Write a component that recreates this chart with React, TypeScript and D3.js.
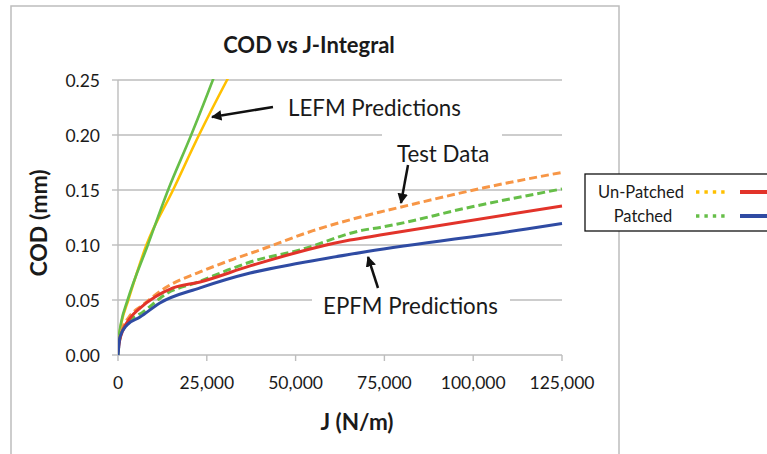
import React from "react";
import * as d3 from "d3";

// ---- Data ----
const X_TICKS = [0, 25000, 50000, 75000, 100000, 125000];
const Y_TICKS = [0, 0.05, 0.1, 0.15, 0.2, 0.25];

// Test data (dashed)
const J_UNPATCHED_TEST = [0, 300, 1000, 3000, 7000, 13800, 23100, 32400, 39100, 54900, 73800, 81600, 103000, 125000];
const COD_UNPATCHED_TEST = [0, 0.012, 0.022, 0.034, 0.0455, 0.062, 0.0755, 0.087, 0.0945, 0.113, 0.13, 0.136, 0.152, 0.166];
const J_PATCHED_TEST = [0, 300, 1000, 3000, 7000, 13800, 22200, 32400, 37200, 51200, 69000, 73800, 100000, 125000];
const COD_PATCHED_TEST = [0, 0.011, 0.02, 0.03, 0.039, 0.056, 0.066, 0.079, 0.0845, 0.0955, 0.1135, 0.116, 0.135, 0.151];

// EPFM predictions (solid)
const J_UNPATCHED_EPFM = [0, 400, 1400, 3400, 6200, 10400, 15500, 23100, 37200, 65300, 73800, 125000];
const COD_UNPATCHED_EPFM = [0.003, 0.012, 0.0227, 0.0336, 0.0427, 0.0527, 0.061, 0.0664, 0.081, 0.1045, 0.109, 0.1355];
const J_PATCHED_EPFM = [0, 560, 2530, 6200, 11800, 23100, 37200, 51200, 70100, 115000, 125000];
const COD_PATCHED_EPFM = [0, 0.0164, 0.0273, 0.0345, 0.0473, 0.061, 0.0745, 0.0836, 0.094, 0.1145, 0.1195];

// LEFM predictions (solid)
const J_UNPATCHED_LEFM = [0, 1000, 2900, 8000, 15500, 22800, 30700, 34000];
const COD_UNPATCHED_LEFM = [0.012, 0.03, 0.05, 0.1, 0.15, 0.2, 0.25, 0.27];
const J_PATCHED_LEFM = [0, 900, 2700, 8400, 14100, 20600, 26700, 29000];
const COD_PATCHED_LEFM = [0.012, 0.03, 0.05, 0.1, 0.15, 0.2, 0.25, 0.27];

const FONT = "Lato, 'Open Sans', sans-serif";

const C_YELLOW = "#FFC000";
const C_GREEN = "#66BE48";
const C_ORANGE = "#F79646";
const C_RED = "#E2332A";
const C_BLUE = "#2F4BA3";
const C_GRID = "#BDBDBD";
const C_TEXT = "#1a1a1a";

export default function App() {
  const W = 767, H = 454;
  const x = d3.scaleLinear().domain([0, 125000]).range([118, 562]);
  const y = d3.scaleLinear().domain([0, 0.25]).range([355, 80]);
  const fmt = d3.format(",");

  const mk = (js: number[], cs: number[]) =>
    d3.line<number>().x((_, i) => x(js[i])).y((_, i) => y(cs[i])).curve(d3.curveMonotoneX)(js) || "";

  const series = [
    { d: mk(J_UNPATCHED_LEFM, COD_UNPATCHED_LEFM), c: C_YELLOW, dash: undefined, w: 2.6 },
    { d: mk(J_PATCHED_LEFM, COD_PATCHED_LEFM), c: C_GREEN, dash: undefined, w: 2.6 },
    { d: mk(J_UNPATCHED_TEST, COD_UNPATCHED_TEST), c: C_ORANGE, dash: "8,4", w: 3 },
    { d: mk(J_PATCHED_TEST, COD_PATCHED_TEST), c: C_GREEN, dash: "8,4", w: 3 },
    { d: mk(J_UNPATCHED_EPFM, COD_UNPATCHED_EPFM), c: C_RED, dash: undefined, w: 3 },
    { d: mk(J_PATCHED_EPFM, COD_PATCHED_EPFM), c: C_BLUE, dash: undefined, w: 3 },
  ];

  return (
    <svg width={W} height={H} style={{ position: "absolute", left: 0, top: 0, background: "#fff" }}>
      <defs>
        <clipPath id="plot">
          <rect x={118} y={79} width={445} height={277} />
        </clipPath>
        <marker id="arr" viewBox="0 0 10 10" refX="9" refY="5" markerWidth="4.2" markerHeight="4.2" orient="auto-start-reverse" markerUnits="strokeWidth">
          <path d="M0,0 L10,5 L0,10 z" fill="#111" />
        </marker>
      </defs>
      {/* chart frame */}
      <rect x={11} y={6} width={608} height={470} fill="#fff" stroke={C_GRID} strokeWidth={1.5} />

      <text x={309} y={44} textAnchor="middle" dominantBaseline="central" fontFamily={FONT} fontWeight="bold" fontSize={22} fill={C_TEXT}>
        COD vs J-Integral
      </text>

      {/* gridlines */}
      {Y_TICKS.filter((t) => t > 0).map((t) => (
        <line key={t} x1={118} x2={562} y1={y(t)} y2={y(t)} stroke={C_GRID} strokeWidth={1.4} />
      ))}
      {/* axes */}
      <line x1={118} x2={118} y1={80} y2={355} stroke={C_GRID} strokeWidth={1.4} />
      <line x1={118} x2={562} y1={355} y2={355} stroke={C_GRID} strokeWidth={1.4} />
      {Y_TICKS.map((t) => (
        <g key={"y" + t}>
          <line x1={112} x2={118} y1={y(t)} y2={y(t)} stroke={C_GRID} strokeWidth={1.4} />
          <text x={100} y={y(t)} textAnchor="end" dominantBaseline="central" fontFamily={FONT} fontSize={17.5} fill={C_TEXT}>
            {t.toFixed(2)}
          </text>
        </g>
      ))}
      {X_TICKS.map((t) => (
        <g key={"x" + t}>
          <line x1={x(t)} x2={x(t)} y1={355} y2={361} stroke={C_GRID} strokeWidth={1.4} />
          <text x={x(t)} y={382} textAnchor="middle" dominantBaseline="central" fontFamily={FONT} fontSize={17.5} fill={C_TEXT}>
            {fmt(t)}
          </text>
        </g>
      ))}
      <text x={357} y={421} textAnchor="middle" dominantBaseline="central" fontFamily={FONT} fontWeight="bold" fontSize={22.5} fill={C_TEXT}>
        J (N/m)
      </text>
      <text transform="translate(38,223) rotate(-90)" textAnchor="middle" dominantBaseline="central" fontFamily={FONT} fontWeight="bold" fontSize={23} fill={C_TEXT}>
        COD (mm)
      </text>

      {/* series */}
      <g clipPath="url(#plot)">
        {series.map((s, i) => (
          <path key={i} d={s.d} fill="none" stroke={s.c} strokeWidth={s.w} strokeDasharray={s.dash} strokeLinejoin="round" />
        ))}
      </g>

      {/* annotations */}
      <text x={288} y={107} dominantBaseline="central" fontFamily={FONT} fontSize={22.3} fill={C_TEXT}>
        LEFM Predictions
      </text>
      <line x1={273} y1={107} x2={212} y2={117} stroke="#111" strokeWidth={2.5} markerEnd="url(#arr)" />

      <rect x={382} y={132} width={120} height={36} fill="#fff" />
      <text x={397} y={153} dominantBaseline="central" fontFamily={FONT} fontSize={22.3} fill={C_TEXT}>
        Test Data
      </text>
      <line x1={408} y1={165} x2={401} y2={203} stroke="#111" strokeWidth={2.5} markerEnd="url(#arr)" />

      <rect x={312} y={290} width={198} height={32} fill="#fff" />
      <text x={323} y={305} dominantBaseline="central" fontFamily={FONT} fontSize={22.3} fill={C_TEXT}>
        EPFM Predictions
      </text>
      <line x1={378} y1={288} x2={368} y2={257} stroke="#111" strokeWidth={2.5} markerEnd="url(#arr)" />

      {/* legend */}
      <rect x={585} y={174} width={200} height={57} fill="#fff" stroke="#111" strokeWidth={1.3} />
      <text x={641} y={192} textAnchor="middle" dominantBaseline="central" fontFamily={FONT} fontSize={16.5} fill={C_TEXT}>
        Un-Patched
      </text>
      <text x={643} y={216} textAnchor="middle" dominantBaseline="central" fontFamily={FONT} fontSize={16.5} fill={C_TEXT}>
        Patched
      </text>
      <line x1={696} x2={726} y1={192} y2={192} stroke={C_YELLOW} strokeWidth={3.5} strokeDasharray="3.4,5" />
      <line x1={696} x2={726} y1={216} y2={216} stroke={C_GREEN} strokeWidth={3.5} strokeDasharray="3.4,5" />
      <line x1={740} x2={770} y1={192} y2={192} stroke={C_RED} strokeWidth={4} />
      <line x1={740} x2={770} y1={216} y2={216} stroke={C_BLUE} strokeWidth={4} />
    </svg>
  );
}
